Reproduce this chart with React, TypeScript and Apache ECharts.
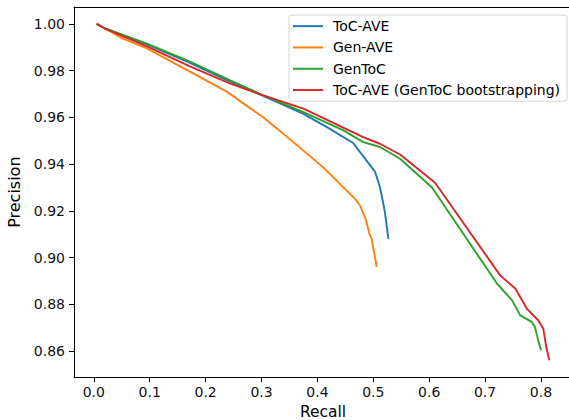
import React, { useEffect, useRef } from "react";
import * as echarts from "echarts";

const seriesNames = ["ToC-AVE", "Gen-AVE", "GenToC", "ToC-AVE (GenToC bootstrapping)"];
const seriesColors = ["#1f77b4", "#ff7f0e", "#2ca02c", "#d62728"];

const tocAveRecall = [0.005, 0.02, 0.095, 0.17, 0.244, 0.303, 0.375, 0.417, 0.464, 0.503, 0.512, 0.518, 0.521, 0.527];
const tocAvePrecision = [1.0, 0.998, 0.9912, 0.9835, 0.9753, 0.9692, 0.9615, 0.9558, 0.949, 0.9368, 0.93, 0.923, 0.919, 0.908];

const genAveRecall = [0.005, 0.02, 0.052, 0.095, 0.238, 0.303, 0.357, 0.411, 0.467, 0.476, 0.487, 0.493, 0.497, 0.506];
const genAvePrecision = [1.0, 0.998, 0.9937, 0.9895, 0.971, 0.96, 0.9494, 0.9385, 0.9252, 0.9224, 0.916, 0.9103, 0.9081, 0.896];

const genTocRecall = [0.005, 0.02, 0.095, 0.17, 0.244, 0.303, 0.375, 0.4466, 0.482, 0.512, 0.548, 0.605, 0.721, 0.748, 0.763, 0.7835, 0.789, 0.795, 0.8];
const genTocPrecision = [1.0, 0.998, 0.9915, 0.984, 0.9758, 0.9694, 0.9622, 0.9544, 0.9494, 0.9473, 0.9423, 0.93, 0.889, 0.8818, 0.8753, 0.8725, 0.8704, 0.8647, 0.8604];

const bootRecall = [0.005, 0.02, 0.095, 0.17, 0.244, 0.303, 0.375, 0.482, 0.512, 0.548, 0.6106, 0.727, 0.754, 0.7746, 0.795, 0.804, 0.81, 0.815];
const bootPrecision = [1.0, 0.998, 0.9904, 0.982, 0.9744, 0.9694, 0.9637, 0.9515, 0.9487, 0.9441, 0.932, 0.8924, 0.8868, 0.8782, 0.8732, 0.8697, 0.8611, 0.8561];

const xTicks = [0, 0.1, 0.2, 0.3, 0.4, 0.5, 0.6, 0.7, 0.8];
const yTicks = [0.86, 0.88, 0.9, 0.92, 0.94, 0.96, 0.98, 1.0];

const zip = (xs: number[], ys: number[]) => xs.map((x, i) => [x, ys[i]]);

const FONT = "DejaVu Sans";

export default function App() {
  const ref = useRef<HTMLDivElement>(null);
  useEffect(() => {
    document.body.style.margin = "0";
    if (!ref.current) return;
    const chart = echarts.init(ref.current, undefined, { renderer: "svg" });
    const dataSets = [
      zip(tocAveRecall, tocAvePrecision),
      zip(genAveRecall, genAvePrecision),
      zip(genTocRecall, genTocPrecision),
      zip(bootRecall, bootPrecision),
    ];
    const xMin = -0.0355;
    const xMax = 0.8555;
    const yMin = 0.8488;
    const yMax = 1.0072;
    chart.setOption({
      animation: false,
      backgroundColor: "#ffffff",
      textStyle: { fontFamily: FONT },
      grid: {
        left: 74,
        top: 7,
        width: 498,
        height: 370.3,
        containLabel: false,
        outerBoundsMode: "none",
      },
      legend: {
        orient: "vertical",
        left: 289,
        top: 15,
        padding: [4, 7, 4, 4],
        icon: "rect",
        itemWidth: 30,
        itemHeight: 2,
        itemGap: 7,
        backgroundColor: "#ffffff",
        borderColor: "#d5d5d5",
        borderWidth: 1,
        borderRadius: 3,
        textStyle: { fontFamily: FONT, fontSize: 14, color: "#000", padding: [0, 0, 0, 5], lineHeight: 14.3 },
        data: seriesNames,
      },
      xAxis: [
        {
          type: "value",
          min: xMin,
          max: xMax,
          position: "bottom",
          name: "Recall",
          nameLocation: "middle",
          nameGap: 18,
          nameTextStyle: { fontFamily: FONT, fontSize: 15.5, color: "#000", lineHeight: 16 },
          axisLine: { show: true, onZero: false, lineStyle: { color: "#000", width: 1 } },
          axisTick: { show: true, length: 5, customValues: xTicks, lineStyle: { color: "#000", width: 1 } },
          axisLabel: {
            customValues: xTicks,
            fontFamily: FONT,
            fontSize: 14,
            color: "#111",
            margin: 8,
            formatter: (v: number) => v.toFixed(1),
          },
          splitLine: { show: false },
        },
        {
          type: "value",
          min: xMin,
          max: xMax,
          position: "top",
          axisLine: { show: true, onZero: false, lineStyle: { color: "#000", width: 1 } },
          axisTick: { show: false },
          axisLabel: { show: false },
          splitLine: { show: false },
        },
      ],
      yAxis: {
        type: "value",
        min: yMin,
        max: yMax,
        name: "Precision",
        nameLocation: "middle",
        nameGap: 49,
        nameTextStyle: { fontFamily: FONT, fontSize: 16, color: "#000" },
        axisLine: { show: true, onZero: false, lineStyle: { color: "#000", width: 1 } },
        axisTick: { show: true, length: 5, customValues: yTicks, lineStyle: { color: "#000", width: 1 } },
        axisLabel: {
          customValues: yTicks,
          fontFamily: FONT,
          fontSize: 14,
          color: "#111",
          margin: 9,
          formatter: (v: number) => v.toFixed(2),
        },
        splitLine: { show: false },
      },
      series: dataSets.map((d, i) => ({
        name: seriesNames[i],
        type: "line",
        xAxisIndex: 0,
        data: d,
        symbol: "none",
        showSymbol: false,
        smooth: false,
        color: seriesColors[i],
        lineStyle: { color: seriesColors[i], width: 1.9 },
        itemStyle: { color: seriesColors[i] },
        z: 2 + i,
      })),
    });
    return () => chart.dispose();
  }, []);
  return <div ref={ref} style={{ width: 569, height: 420 }} />;
}
